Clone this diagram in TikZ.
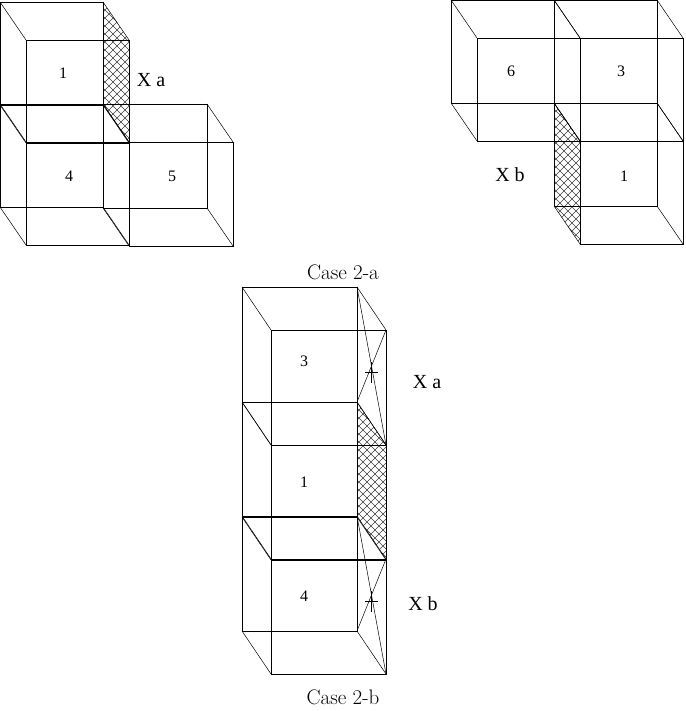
\documentclass[tikz,border=0pt]{standalone}
\usepackage{fontspec}
\newfontfamily\timesfont{Liberation Serif}
\tikzset{
  cubeline/.style={line width=0.5pt},
  hatchline/.style={line width=0.4pt, black!75},
  numlabel/.style={font=\timesfont\fontsize{16}{16}\selectfont},
  xlabel/.style={font=\timesfont\fontsize{20}{20}\selectfont},
  caption/.style={font=\fontsize{21}{21}\selectfont}
}
% wireframe cube: back corner (x,y), side s, depth offset (dx,dy)
\newcommand{\wirecube}[5]{%
  \draw[cubeline] (#1,#2) rectangle ++(#3,#3);
  \draw[cubeline] (#1+#4,#2+#5) rectangle ++(#3,#3);
  \draw[cubeline] (#1,#2) -- ++(#4,#5) (#1+#3,#2) -- ++(#4,#5)
    (#1,#2+#3) -- ++(#4,#5) (#1+#3,#2+#3) -- ++(#4,#5);
}
% cross-hatched parallelogram: back edge at x=#1 from y=#2 to #2+#3, offset (#4,#5)
\newcommand{\hatchface}[5]{%
  \begin{scope}
    \clip (#1,#2) -- ++(#4,#5) -- ++(0,#3) -- ++(-#4,-#5) -- cycle;
    \foreach \k in {-60,-52,...,200} {
      \draw[hatchline] (#1-10,#2+\k) -- ++(60,60);
      \draw[hatchline] (#1-10,#2+\k) -- ++(60,-60);
    }
  \end{scope}
}
\begin{document}
\begin{tikzpicture}[x=1pt,y=-1pt]
  \useasboundingbox (0,0) rectangle (685,711);

  % -- Case 2-a, left group --
  \hatchface{103}{2}{102}{26}{38}
  \wirecube{0}{2}{103}{26}{38}
  \wirecube{0}{104}{103}{26}{38}
  \wirecube{103}{104}{104}{26}{38}
  \node[numlabel] (n1) at (63,73) {1};
  \node[numlabel] (n4) at (69,176) {4};
  \node[numlabel] (n5) at (172,176) {5};
  \node[xlabel] (xa1) at (151,80) {X a};

  % -- Case 2-a, right group --
  \hatchface{554}{103}{103}{26}{38}
  \wirecube{451}{0}{103}{26}{38}
  \wirecube{554}{0}{103}{26}{38}
  \wirecube{554}{103}{103}{26}{38}
  \node[numlabel] (n6) at (511,71) {6};
  \node[numlabel] (n3) at (621,71) {3};
  \node[numlabel] (n1b) at (624,176) {1};
  \node[xlabel] (xb1) at (510,175) {X b};

  \node[caption] (capa) at (343,272) {Case 2-a};

  % -- Case 2-b column --
  \hatchface{357}{402}{114}{29}{43}
  \foreach \yy in {287,402,516} {
    \wirecube{242}{\yy}{115}{29}{43}
  }
  % diagonals on the right faces
  \foreach \yy in {287,516} {
    \draw[cubeline] (357,\yy) -- (386,\yy+158) (386,\yy+43) -- (357,\yy+115);
    \draw[cubeline] (365,\yy+85) -- (378,\yy+85) (371,\yy+75) -- (371,\yy+96);
  }
  \node[numlabel] (n3c) at (304,361) {3};
  \node[numlabel] (n1c) at (304,482) {1};
  \node[numlabel] (n4c) at (304,596) {4};
  \node[xlabel] (xa2) at (427,382) {X a};
  \node[xlabel] (xb2) at (423,604) {X b};

  \node[caption] (capb) at (343,697) {Case 2-b};
\end{tikzpicture}
\end{document}
